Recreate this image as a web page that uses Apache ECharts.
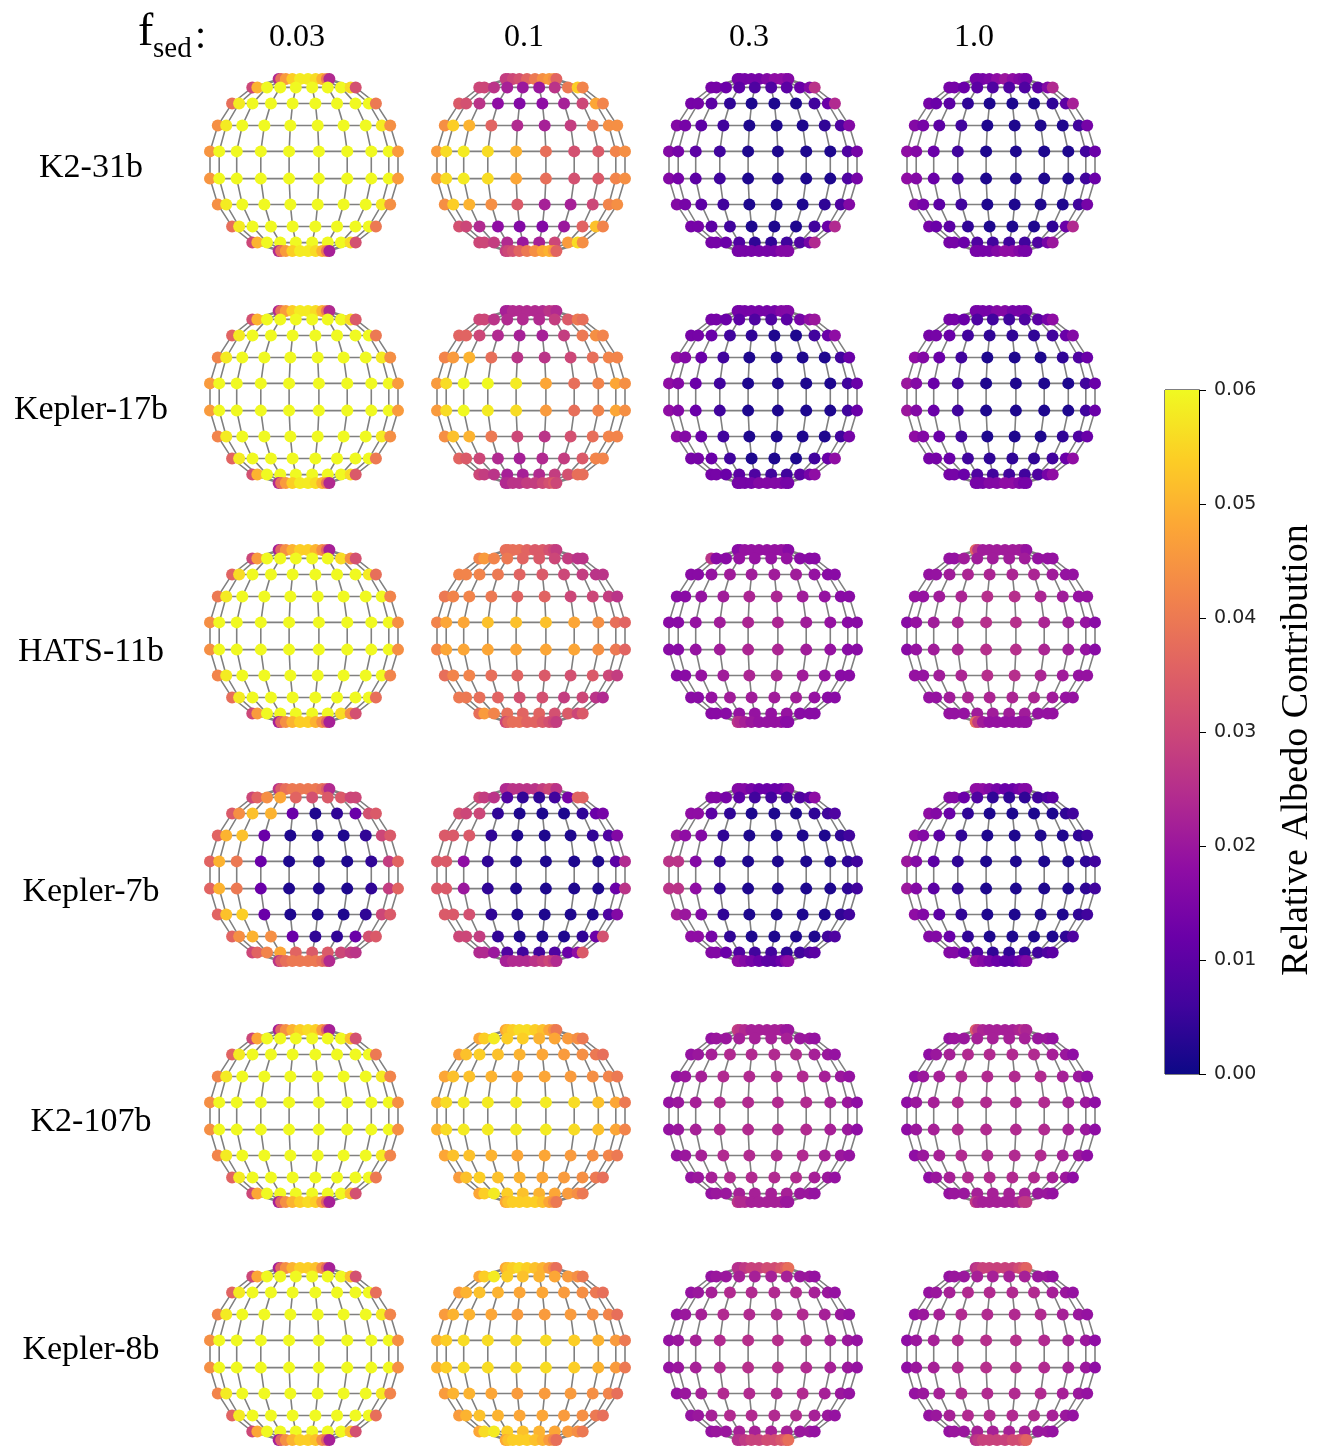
<!DOCTYPE html>
<html>
<head>
<meta charset="utf-8">
<title>Relative albedo contribution maps</title>
<script src="https://cdn.jsdelivr.net/npm/echarts@6/dist/echarts.min.js"></script>
<style>
  html, body { margin: 0; padding: 0; background: #fff; }
  #chart { width: 1330px; height: 1456px; }
</style>
</head>
<body>
<div id="chart"></div>
<script>
// rows and columns of the figure
const planets = ['K2-31b', 'Kepler-17b', 'HATS-11b', 'Kepler-7b', 'K2-107b', 'Kepler-8b'];
const fsedLabels = ['0.03', '0.1', '0.3', '1.0'];
const cbarTicks = [0, 0.01, 0.02, 0.03, 0.04, 0.05, 0.06];

// globe grid (degrees): latitude rings top->bottom, longitudes west->east
const LATS = [81, 63, 45, 27, 9, -9, -27, -45, -63, -81];
const LONS = [-81, -63, -45, -27, -9, 9, 27, 45, 63, 81];
// how wide each latitude ring is drawn (perspective of the 3d view)
const RING_WIDTH = [0.27, 0.55, 0.765, 0.917, 1, 1, 0.917, 0.765, 0.55, 0.27];

// relative albedo contribution per grid point, units of 1e-3
// one row per latitude ring (north -> south), one column per longitude (west -> east)
const k2_31b_003 = [
  [24,38,46,54,58,58,56,50,40,24],
  [30,50,60,60,60,60,60,60,56,32],
  [38,58,60,60,60,60,60,60,60,40],
  [44,58,60,60,60,60,60,60,58,44],
  [45,60,60,60,60,60,60,60,60,46],
  [45,60,60,60,60,60,60,60,60,46],
  [44,58,60,60,60,60,60,60,58,44],
  [38,58,60,60,60,60,60,60,60,40],
  [30,50,60,60,60,60,60,60,56,32],
  [24,38,46,54,58,58,56,50,40,22]];
const k2_31b_01 = [
  [28,28,30,32,36,40,44,46,44,36],
  [30,30,26,22,20,20,26,40,54,42],
  [34,32,26,18,16,18,22,30,48,42],
  [44,54,50,36,24,22,28,40,44,44],
  [46,56,58,56,50,38,32,34,42,44],
  [46,56,58,56,48,38,32,34,42,44],
  [44,54,50,44,34,22,22,30,42,44],
  [32,30,24,18,16,16,20,36,52,42],
  [30,30,28,24,20,22,30,46,56,44],
  [28,30,32,36,40,44,48,50,46,36]];
const k2_31b_03 = [
  [14,14,14,14,14,16,18,18,18,16],
  [14,14,12,10,8,8,10,12,16,26],
  [14,14,10,4,2,2,2,6,12,24],
  [16,14,10,6,2,2,2,4,8,16],
  [16,14,10,6,2,2,2,2,8,14],
  [16,14,10,6,2,2,2,2,8,14],
  [16,14,10,6,2,2,2,4,8,16],
  [14,14,10,6,2,2,2,6,12,24],
  [14,14,12,8,4,4,6,8,14,24],
  [14,14,14,14,14,14,14,16,16,16]];
const k2_31b_10 = [
  [14,14,14,15,18,20,18,16,15,14],
  [14,14,12,10,8,8,8,10,16,24],
  [14,12,10,4,2,2,2,4,10,22],
  [16,14,10,6,2,2,2,2,6,14],
  [18,16,12,6,2,2,2,2,6,12],
  [18,16,12,6,2,2,2,2,6,12],
  [16,14,10,6,2,2,2,2,6,14],
  [14,12,10,4,2,2,2,4,12,24],
  [14,14,12,8,6,6,6,8,14,20],
  [14,14,14,14,16,18,18,16,14,14]];

const kepler17b_003 = [
  [24,38,46,54,58,58,56,50,40,24],
  [32,50,60,60,60,60,60,60,56,34],
  [36,58,60,60,60,60,60,60,60,40],
  [42,58,60,60,60,60,60,60,58,44],
  [46,60,60,60,60,60,60,60,60,46],
  [46,60,60,60,60,60,60,60,60,46],
  [42,58,60,60,60,60,60,60,58,44],
  [36,58,60,60,60,60,60,60,60,40],
  [32,50,60,60,60,60,60,60,56,34],
  [24,38,46,54,58,58,56,50,40,24]];
const kepler17b_01 = [
  [22,22,24,24,24,24,24,26,26,24],
  [30,30,26,24,24,24,28,34,40,38],
  [36,36,30,24,22,22,28,40,44,42],
  [42,46,50,38,26,26,30,38,42,42],
  [46,56,60,60,58,48,38,42,48,44],
  [46,56,60,58,56,46,38,42,48,44],
  [44,52,50,40,30,26,32,38,42,42],
  [36,34,30,24,22,24,28,34,42,42],
  [30,28,26,22,22,24,28,32,38,38],
  [24,24,26,26,28,28,30,32,34,30]];
const kepler17b_03 = [
  [14,14,14,14,14,14,14,16,16,16],
  [14,14,12,10,8,8,10,14,18,20],
  [14,14,12,6,4,2,2,6,12,18],
  [18,16,12,6,2,2,2,2,6,12],
  [18,16,12,6,2,2,2,2,6,12],
  [18,16,12,6,2,2,2,2,6,12],
  [18,16,12,6,2,2,2,2,6,14],
  [14,14,12,6,2,2,2,6,12,18],
  [14,14,12,10,8,6,6,10,14,18],
  [14,14,14,14,16,16,16,16,14,14]];
const kepler17b_10 = [
  [14,14,14,14,16,16,14,14,14,14],
  [14,14,12,8,6,6,8,10,14,18],
  [14,14,12,6,4,4,4,6,12,16],
  [18,16,12,6,2,2,2,4,8,12],
  [20,16,12,6,2,2,2,2,6,12],
  [20,16,12,6,2,2,2,2,6,12],
  [18,16,12,6,2,2,2,4,8,12],
  [14,14,12,6,4,4,4,6,12,18],
  [14,14,12,8,6,6,6,8,14,18],
  [14,14,14,16,16,18,18,16,14,14]];

const hats11b_003 = [
  [22,36,44,50,54,54,50,44,36,22],
  [30,46,60,60,60,60,60,56,44,32],
  [36,56,60,60,60,60,60,60,58,38],
  [40,58,60,60,60,60,60,60,60,42],
  [44,60,60,60,60,60,60,60,60,44],
  [44,60,60,60,60,60,60,60,60,44],
  [42,58,60,60,60,60,60,60,60,42],
  [38,58,60,60,60,60,60,60,60,38],
  [30,46,60,60,60,60,60,56,44,32],
  [22,36,44,50,54,54,50,44,36,22]];
const hats11b_01 = [
  [38,38,38,38,36,34,34,32,30,28],
  [42,46,42,40,36,34,30,28,26,26],
  [42,42,42,40,36,34,30,28,26,26],
  [40,42,42,40,36,36,30,30,28,26],
  [42,48,48,52,52,52,48,44,38,36],
  [42,48,48,48,48,48,48,44,40,36],
  [38,42,42,38,36,34,32,34,30,28],
  [40,40,38,36,32,32,28,30,26,24],
  [38,46,42,38,36,36,32,34,30,34],
  [30,36,38,38,36,36,34,32,30,28]];
const hats11b_03 = [
  [17,17,19,19,19,19,19,19,19,17],
  [26,17,17,19,19,19,19,17,17,17],
  [17,17,19,21,21,21,21,19,17,17],
  [17,17,19,21,23,23,21,19,17,17],
  [17,17,19,21,23,23,21,19,17,17],
  [17,17,19,21,23,23,21,19,17,17],
  [17,17,19,21,23,23,21,19,17,17],
  [17,17,19,21,21,21,21,19,17,17],
  [17,17,17,19,19,19,19,17,17,17],
  [26,24,22,20,19,19,19,19,17,17]];
const hats11b_10 = [
  [36,26,21,21,21,21,21,21,21,19],
  [19,19,21,21,21,21,21,19,19,19],
  [19,19,21,23,23,23,23,21,19,19],
  [19,19,21,23,25,25,23,21,19,19],
  [17,19,21,23,25,25,23,21,19,17],
  [17,19,21,23,25,25,23,21,19,17],
  [19,19,21,23,25,25,23,21,19,19],
  [19,19,21,23,23,23,23,21,19,19],
  [19,19,19,21,21,21,21,19,19,19],
  [38,28,21,19,19,19,19,19,19,19]];

const kepler7b_003 = [
  [26,34,38,40,40,40,40,38,34,24],
  [30,36,44,48,36,32,34,34,30,30],
  [34,44,52,50,12,2,4,12,32,34],
  [36,50,52,12,2,2,2,4,30,34],
  [36,50,40,12,2,2,2,4,28,36],
  [36,50,40,12,2,2,2,4,28,36],
  [36,52,54,12,2,2,2,4,30,34],
  [36,44,50,44,12,4,4,12,32,34],
  [30,36,42,48,36,34,34,30,28,26],
  [26,34,38,40,40,40,40,38,34,24]];
const kepler7b_01 = [
  [24,24,26,26,26,26,28,30,30,26],
  [30,28,26,8,4,4,6,14,36,36],
  [32,30,30,4,2,2,2,4,12,14],
  [34,34,34,4,2,2,2,4,8,16],
  [34,34,18,4,2,2,2,2,10,24],
  [34,34,20,4,2,2,2,2,12,26],
  [34,34,32,4,2,2,2,2,8,16],
  [30,30,28,4,2,2,2,4,12,32],
  [24,24,20,8,6,6,8,12,18,34],
  [22,22,24,24,24,26,28,30,28,24]];
const kepler7b_03 = [
  [16,16,16,14,12,12,12,12,14,16],
  [16,16,14,10,6,6,6,8,10,18],
  [18,18,10,4,2,2,2,4,6,8],
  [20,18,16,4,2,2,2,2,4,6],
  [26,26,16,4,2,2,2,2,4,6],
  [26,26,18,4,2,2,2,2,4,6],
  [22,20,16,4,2,2,2,2,4,6],
  [18,18,14,4,2,2,2,2,6,8],
  [16,16,12,8,6,6,4,6,8,10],
  [18,18,16,14,12,10,10,12,16,18]];
const kepler7b_10 = [
  [18,18,18,16,14,12,12,14,16,16],
  [16,16,12,8,4,4,4,6,8,10],
  [18,16,12,4,2,2,2,2,4,6],
  [18,16,10,4,2,2,2,2,4,6],
  [20,16,10,4,2,2,2,2,4,6],
  [20,16,10,4,2,2,2,2,4,6],
  [18,16,10,4,2,2,2,2,4,6],
  [16,16,12,4,2,2,2,2,4,8],
  [16,16,12,8,4,4,4,6,8,10],
  [18,18,16,14,12,10,10,12,14,16]];

const k2_107b_003 = [
  [22,36,44,50,54,56,54,46,36,22],
  [30,48,60,60,60,60,60,60,52,32],
  [36,58,60,60,60,60,60,60,60,40],
  [42,58,60,60,60,60,60,60,58,42],
  [44,60,60,60,60,60,60,60,60,44],
  [44,60,60,60,60,60,60,60,60,44],
  [42,58,60,60,60,60,60,60,58,42],
  [36,58,60,60,60,60,60,60,60,40],
  [30,48,60,60,60,60,60,60,52,32],
  [22,36,44,50,54,56,54,46,36,22]];
const k2_107b_01 = [
  [48,52,54,56,56,54,52,48,44,40],
  [48,54,58,54,54,50,48,46,44,40],
  [46,52,54,52,50,48,46,44,40,38],
  [48,52,52,50,48,48,46,44,42,40],
  [50,56,58,58,58,58,56,52,48,40],
  [50,56,58,58,58,58,56,52,48,42],
  [48,52,52,50,48,48,46,44,42,40],
  [46,52,54,52,50,48,46,44,40,38],
  [48,54,58,54,52,50,48,46,44,40],
  [48,52,54,54,54,54,52,48,44,40]];
const k2_107b_03 = [
  [28,26,24,22,22,22,22,22,20,20],
  [19,20,20,22,22,22,22,20,20,19],
  [19,20,22,24,24,24,24,22,20,19],
  [19,20,22,24,24,24,24,22,20,19],
  [19,20,22,24,24,24,24,22,20,18],
  [19,20,22,24,24,24,24,22,20,18],
  [19,20,22,24,24,24,24,22,20,19],
  [19,20,22,24,24,24,24,22,20,19],
  [19,20,20,22,22,22,22,20,20,19],
  [26,24,24,22,22,22,22,22,20,20]];
const k2_107b_10 = [
  [34,27,23,22,22,22,22,23,25,23],
  [19,20,20,22,22,22,22,20,20,19],
  [18,20,22,24,24,24,24,22,20,18],
  [18,20,22,24,24,24,24,22,20,18],
  [18,20,22,24,24,24,24,22,20,18],
  [18,20,22,24,24,24,24,22,20,18],
  [18,20,22,24,24,24,24,22,20,18],
  [18,20,22,24,24,24,24,22,20,18],
  [19,20,20,22,22,22,22,20,20,19],
  [27,23,22,22,22,22,22,23,27,27]];

const kepler8b_003 = [
  [22,36,44,50,54,54,52,44,36,22],
  [30,48,60,60,60,60,60,60,52,32],
  [36,58,60,60,60,60,60,60,60,38],
  [42,58,60,60,60,60,60,60,58,42],
  [44,60,60,60,60,60,60,60,60,44],
  [44,60,60,60,60,60,60,60,60,44],
  [42,58,60,60,60,60,60,60,58,42],
  [36,58,60,60,60,60,60,60,60,38],
  [30,48,60,60,60,60,60,60,52,32],
  [22,36,44,50,54,54,52,44,36,22]];
const kepler8b_01 = [
  [48,52,54,56,54,52,50,46,42,38],
  [48,54,58,54,52,50,48,46,44,40],
  [46,50,52,50,48,48,46,44,40,38],
  [46,50,50,48,46,46,46,44,42,38],
  [50,54,56,56,56,56,54,50,46,40],
  [50,54,56,56,56,56,54,50,46,40],
  [46,50,50,48,46,46,46,44,42,38],
  [46,50,52,50,48,48,46,44,40,38],
  [48,56,58,54,52,50,48,46,44,40],
  [48,52,54,54,54,52,50,46,42,38]];
const kepler8b_03 = [
  [25,25,27,29,29,31,31,33,35,38],
  [19,20,20,22,22,22,22,20,20,19],
  [19,20,22,24,24,24,24,22,20,19],
  [19,20,22,24,24,24,24,22,20,19],
  [19,20,22,24,25,25,24,22,20,19],
  [19,20,22,24,25,25,24,22,20,19],
  [19,20,22,24,24,24,24,22,20,19],
  [19,20,22,24,24,24,24,22,20,19],
  [19,20,20,22,22,22,22,20,20,19],
  [25,25,27,29,29,31,31,33,35,38]];
const kepler8b_10 = [
  [25,27,29,29,29,29,29,31,33,36],
  [19,20,20,22,22,22,22,20,20,19],
  [19,20,22,24,24,24,24,22,20,19],
  [19,20,22,24,24,24,24,22,20,19],
  [18,20,22,24,25,25,24,22,20,18],
  [18,20,22,24,25,25,24,22,20,18],
  [19,20,22,24,24,24,24,22,20,19],
  [19,20,22,24,24,24,24,22,20,19],
  [19,20,20,22,22,22,22,20,20,19],
  [25,27,29,29,29,29,31,31,33,36]];

const SPHERES = [
  [k2_31b_003, k2_31b_01, k2_31b_03, k2_31b_10],
  [kepler17b_003, kepler17b_01, kepler17b_03, kepler17b_10],
  [hats11b_003, hats11b_01, hats11b_03, hats11b_10],
  [kepler7b_003, kepler7b_01, kepler7b_03, kepler7b_10],
  [k2_107b_003, k2_107b_01, k2_107b_03, k2_107b_10],
  [kepler8b_003, kepler8b_01, kepler8b_03, kepler8b_10]
];

// matplotlib "plasma"
const PLASMA = ['#0d0887', '#41049d', '#6a00a8', '#8f0da4', '#b12a90', '#cc4778',
                '#e16462', '#f2844b', '#fca636', '#fcce25', '#f0f921'];

// layout (px)
const COL_CX = [304, 531, 763, 1001];
const ROW_CY = [165, 397, 636, 875, 1116, 1354];
const LABEL_Y = [168, 410, 652, 892, 1122, 1350];
const RX = 94, RY = 86;

const deg = Math.PI / 180;
const norm = Math.sin(81 * deg);

const grids = [], xAxes = [], yAxes = [], series = [], scatterIdx = [];

planets.forEach((planet, r) => {
  fsedLabels.forEach((fsed, c) => {
    const gi = grids.length;
    grids.push({ left: COL_CX[c] - RX, top: ROW_CY[r] - RY, width: 2 * RX, height: 2 * RY });
    xAxes.push({ gridIndex: gi, type: 'value', min: -1, max: 1, show: false });
    yAxes.push({ gridIndex: gi, type: 'value', min: -1, max: 1, show: false });

    const vals = SPHERES[r][c];
    const pos = LATS.map((lat, i) => LONS.map(lon => [
      Math.sin(lon * deg) / norm * RING_WIDTH[i],
      Math.sin(lat * deg) / norm
    ]));

    const paths = [];
    pos.forEach(ring => paths.push({ coords: ring }));
    LONS.forEach((lon, j) => paths.push({ coords: pos.map(ring => ring[j]) }));

    const pts = [];
    pos.forEach((ring, i) => ring.forEach((p, j) => pts.push([p[0], p[1], vals[i][j]])));

    series.push({
      type: 'lines', coordinateSystem: 'cartesian2d', xAxisIndex: gi, yAxisIndex: gi,
      polyline: true, silent: true, z: 1,
      lineStyle: { color: '#808080', width: 1.6, opacity: 1 },
      data: paths
    });
    scatterIdx.push(series.length);
    series.push({
      name: planet + ' ' + fsed,
      type: 'scatter', xAxisIndex: gi, yAxisIndex: gi, symbolSize: 12,
      clip: false, silent: true, z: 2,
      itemStyle: { opacity: 1 },
      data: pts
    });
  });
});

// colour bar
const cb = grids.length;
grids.push({ left: 1165, top: 390, width: 34, height: 684, show: true, borderColor: '#000', borderWidth: 1 });
xAxes.push({ gridIndex: cb, type: 'category', data: [''], show: false });
yAxes.push({
  gridIndex: cb, type: 'value', position: 'right',
  min: cbarTicks[0], max: cbarTicks[cbarTicks.length - 1], interval: 0.01,
  axisLine: { show: true, lineStyle: { color: '#000', width: 1 } },
  axisTick: { show: true, length: 7, lineStyle: { color: '#000', width: 1 } },
  splitLine: { show: false },
  axisLabel: {
    fontFamily: 'DejaVu Sans', fontSize: 19, color: '#222', margin: 15,
    formatter: v => v.toFixed(2)
  }
});
series.push({
  type: 'bar', xAxisIndex: cb, yAxisIndex: cb, barWidth: '100%', silent: true,
  data: [cbarTicks[cbarTicks.length - 1]],
  itemStyle: {
    color: new echarts.graphic.LinearGradient(0, 1, 0, 0,
      PLASMA.map((col, k) => ({ offset: k / (PLASMA.length - 1), color: col })))
  }
});

const serif = 'Liberation Serif';
const graphic = [];
planets.forEach((planet, r) => graphic.push({
  type: 'text', x: 91, y: LABEL_Y[r],
  style: { text: planet, font: '34px "' + serif + '"', fill: '#000', textAlign: 'center', textVerticalAlign: 'middle' }
}));
const headX = [297, 524, 749, 974];
fsedLabels.forEach((f, c) => graphic.push({
  type: 'text', x: headX[c], y: 38,
  style: { text: f, font: '32px "' + serif + '"', fill: '#000', textAlign: 'center', textVerticalAlign: 'middle' }
}));
graphic.push(
  { type: 'text', x: 138, y: 33, style: { text: 'f', font: '46px "' + serif + '"', fill: '#000', textAlign: 'left', textVerticalAlign: 'middle' } },
  { type: 'text', x: 153, y: 49, style: { text: 'sed', font: '29px "' + serif + '"', fill: '#000', textAlign: 'left', textVerticalAlign: 'middle' } },
  { type: 'text', x: 195, y: 37, style: { text: ':', font: '40px "' + serif + '"', fill: '#000', textAlign: 'left', textVerticalAlign: 'middle' } },
  { type: 'text', x: 1297, y: 750, rotation: Math.PI / 2,
    style: { text: 'Relative Albedo Contribution', font: '38px "' + serif + '"', fill: '#000', textAlign: 'center', textVerticalAlign: 'middle' } }
);

const chart = echarts.init(document.getElementById('chart'));
chart.setOption({
  animation: false,
  backgroundColor: '#fff',
  grid: grids,
  xAxis: xAxes,
  yAxis: yAxes,
  visualMap: {
    type: 'continuous', show: false, min: 0, max: 60, dimension: 2,
    seriesIndex: scatterIdx,
    inRange: { color: PLASMA }
  },
  graphic: graphic,
  series: series
});
</script>
</body>
</html>
